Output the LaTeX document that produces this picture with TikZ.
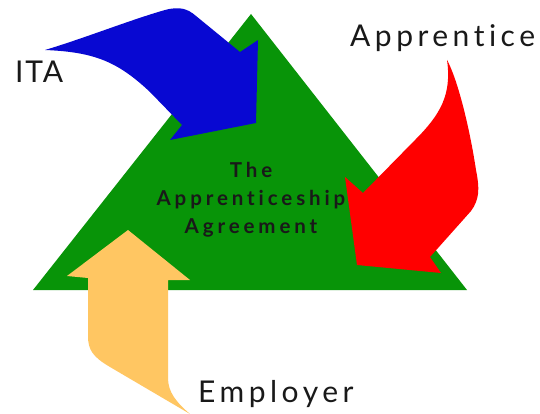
\documentclass[tikz,border=0pt]{standalone}
\usepackage{fontspec}
\setmainfont{Lato}
\newfontfamily\labelfont[LetterSpace=15,Ligatures={NoCommon,NoRare}]{Lato}
\newfontfamily\itafont[LetterSpace=6,Ligatures={NoCommon,NoRare}]{Lato}
\newfontfamily\centerfont[LetterSpace=19,Ligatures={NoCommon,NoRare}]{Lato Bold}
\definecolor{trigreen}{RGB}{8,148,8}
\definecolor{arrblue}{RGB}{8,8,210}
\definecolor{arrred}{RGB}{255,0,0}
\definecolor{arrorange}{RGB}{255,198,98}
\definecolor{txt}{RGB}{25,25,25}
\begin{document}
\begin{tikzpicture}[x=1pt,y=-1pt,
  outer/.style={font=\labelfont\fontsize{30}{30}\selectfont, text=txt, inner sep=0pt, anchor=base west},
  inner/.style={font=\centerfont\fontsize{20.5}{20.5}\selectfont, text=txt, inner sep=0pt, anchor=base}]
\useasboundingbox (0,0) rectangle (540,414);
\fill[white] (0,0) rectangle (540,414);
% triangle
\fill[trigreen] (251,14) -- (467,290) -- (33,290) -- cycle;
% orange arrow (Employer)
\fill[arrorange] (128,230) -- (190,280) -- (168,280) -- (168,378)
  .. controls (168,392) and (176,402) .. (190,414)
  -- (110,367) .. controls (93,357) and (88,350) .. (88,336)
  -- (88,278) -- (67,276) -- cycle;
% blue arrow (ITA)
\fill[arrblue] (45,50) .. controls (85,38) and (130,20) .. (165,10)
  .. controls (180,6) and (188,9) .. (196,16)
  -- (240,52) -- (258,40) -- (256,123) -- (170,140) -- (182,125)
  -- (150,92) .. controls (118,62) and (95,52) .. cycle;
% red arrow (Apprentice)
\fill[arrred] (447,60) .. controls (458,80) and (470,130) .. (476,170)
  .. controls (480,190) and (479,200) .. (471,211)
  -- (430,257) -- (441,273) -- (357,265) -- (345,177) -- (363,193)
  -- (415,140) .. controls (440,115) and (452,95) .. cycle;
% labels
\node[outer, font=\itafont\fontsize{30}{30}\selectfont] (ita) at (15,83) {ITA};
\node[outer] (app) at (350,47) {Apprentice};
\node[outer] (emp) at (198,402) {Employer};
\node[inner] (t1) at (251,177) {The};
\node[inner] (t2) at (251,205) {Apprenticeship};
\node[inner] (t3) at (251,233) {Agreement};
\end{tikzpicture}
\end{document}
